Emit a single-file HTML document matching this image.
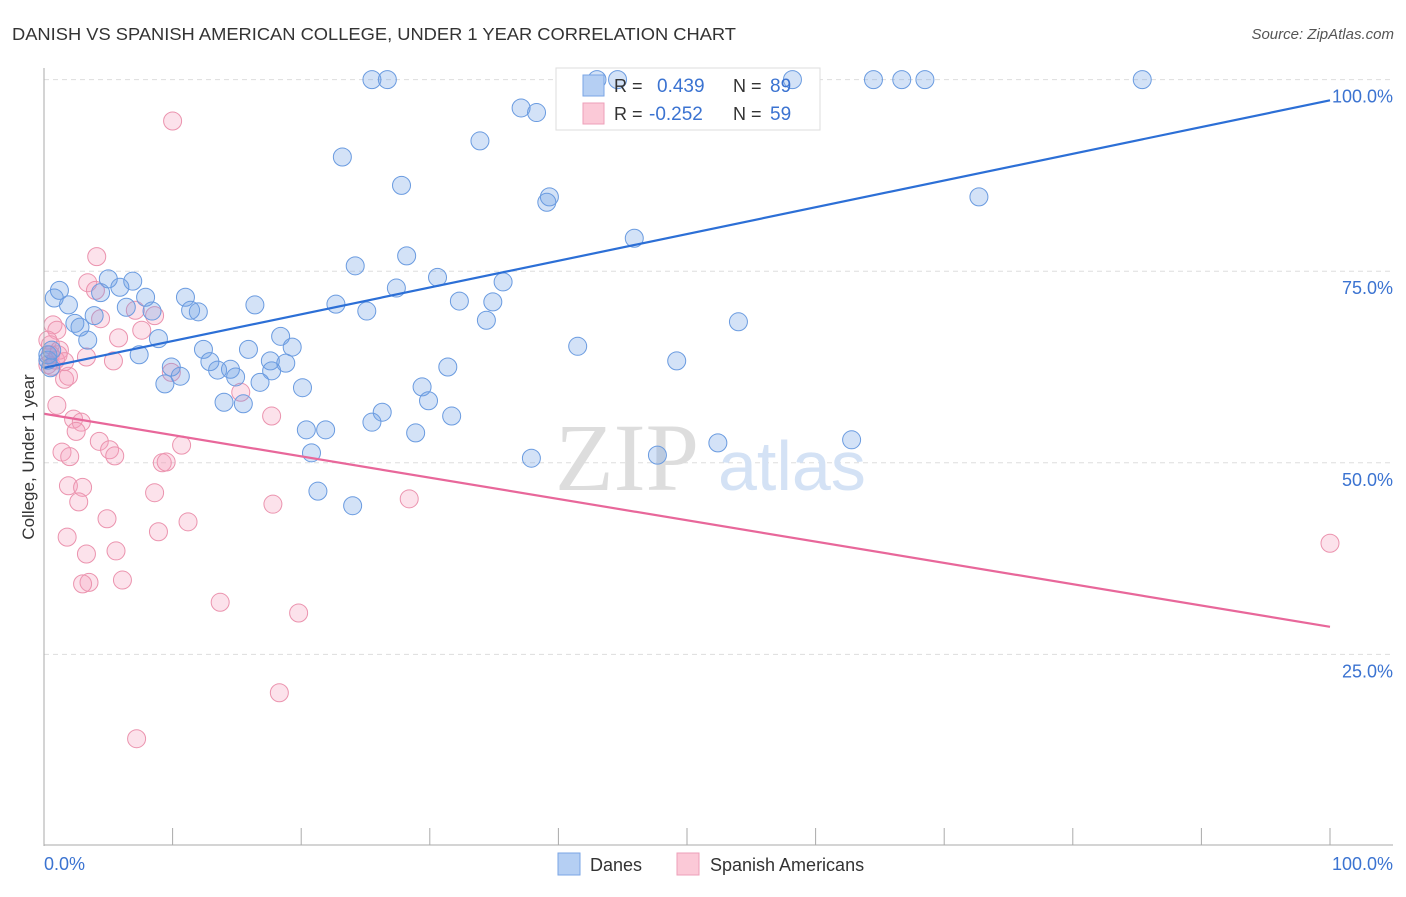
<!DOCTYPE html>
<html><head><meta charset="utf-8"><style>
body{margin:0;background:#fff;font-family:"Liberation Sans",sans-serif;}
</style></head><body>
<svg width="1406" height="892" xmlns="http://www.w3.org/2000/svg" style="font-family:'Liberation Sans',sans-serif">
<text x="12" y="40" font-size="17.5" fill="#333" textLength="724" lengthAdjust="spacingAndGlyphs">DANISH VS SPANISH AMERICAN COLLEGE, UNDER 1 YEAR CORRELATION CHART</text>
<text x="1394" y="39" font-size="15" fill="#555" font-style="italic" text-anchor="end">Source: ZipAtlas.com</text>
<g id="grid"></g>
<text x="555" y="490" font-size="96" fill="#ddd" font-family="Liberation Serif">ZIP</text>
<text x="718" y="490" font-size="70" fill="#d4e2f5">atlas</text>
<g>
<rect x="556" y="68" width="264" height="62" fill="#fff" stroke="#ddd"/>
</g>
<g id="pts"></g>
<g id="lines"></g>
<g>
<rect x="583" y="75" width="21" height="21" fill="#b5cff3" stroke="#7aa5e6"/>
<rect x="583" y="103" width="21" height="21" fill="#fbc9d7" stroke="#ee9fb8"/>
<text x="614" y="92" font-size="18" fill="#333">R =</text>
<text x="657" y="92" font-size="19" fill="#3b73d1">0.439</text>
<text x="733" y="92" font-size="18" fill="#333">N =</text>
<text x="770" y="92" font-size="19" fill="#3b73d1">89</text>
<text x="614" y="120" font-size="18" fill="#333">R =</text>
<text x="649" y="120" font-size="19" fill="#3b73d1">-0.252</text>
<text x="733" y="120" font-size="18" fill="#333">N =</text>
<text x="770" y="120" font-size="19" fill="#3b73d1">59</text>
</g>
<line x1="44" y1="68" x2="44" y2="846" stroke="#aaa"/>
<line x1="44" y1="845" x2="1393" y2="845" stroke="#aaa"/>
<g id="ticks"></g>
<text x="44" y="870" font-size="18" fill="#3b73d1">0.0%</text>
<text x="1393" y="870" font-size="18" fill="#3b73d1" text-anchor="end">100.0%</text>
<text transform="translate(34,457) rotate(-90)" font-size="17" fill="#333" text-anchor="middle">College, Under 1 year</text>
<g>
<rect x="558" y="853" width="22" height="22" fill="#b5cff3" stroke="#7aa5e6"/>
<text x="590" y="871" font-size="18" fill="#333">Danes</text>
<rect x="677" y="853" width="22" height="22" fill="#fbc9d7" stroke="#ee9fb8"/>
<text x="710" y="871" font-size="18" fill="#333">Spanish Americans</text>
</g>
</svg>
<script>
const yTicks=[100,75,50,25];
const yTickLabels=["100.0%","75.0%","50.0%","25.0%"];
const blueX=[25.5,26.7,43.0,44.6,58.2,64.5,66.7,68.5,85.4,37.1,38.3,33.9,23.2,27.8,39.3,39.1,72.7,45.9,28.2,24.2,30.6,35.7,5.0,6.9,5.9,1.2,0.8,4.4,7.9,11.0,1.9,6.4,8.4,11.4,12.0,16.4,22.7,25.1,27.4,32.3,34.9,34.4,54.0,2.4,2.8,3.9,3.4,8.9,18.4,12.4,15.9,19.3,41.5,7.4,49.2,9.9,12.9,13.5,14.5,17.6,18.8,17.7,31.4,10.6,14.9,9.4,16.8,20.1,29.4,29.9,14.0,15.5,26.3,31.7,25.5,20.4,21.9,28.9,52.4,62.8,20.8,37.9,47.7,21.3,24.0,0.3,0.3,0.5,0.6];
const blueY=[100,100,100,100,100,100,100,100,100,96.3,95.7,92.0,89.9,86.2,84.7,84.0,84.7,79.3,77.0,75.7,74.2,73.6,74.0,73.7,72.9,72.5,71.5,72.2,71.6,71.6,70.6,70.3,69.8,69.9,69.7,70.6,70.7,69.8,72.8,71.1,71.0,68.6,68.4,68.2,67.7,69.2,66.0,66.2,66.5,64.8,64.8,65.1,65.2,64.1,63.3,62.5,63.2,62.1,62.2,63.3,63.0,62.0,62.5,61.3,61.2,60.3,60.5,59.8,59.9,58.1,57.9,57.7,56.6,56.1,55.3,54.3,54.3,53.9,52.6,53.0,51.3,50.6,51.0,46.3,44.4,63.4,64.1,62.4,64.7];
const pinkX=[10.0,4.1,3.4,4.0,0.7,1.0,4.4,8.6,7.1,7.6,5.8,0.5,1.1,3.3,5.4,0.6,1.6,1.9,0.3,9.9,15.3,1.0,2.3,2.9,2.5,17.7,1.4,4.3,5.1,5.5,2.0,9.2,9.5,10.7,1.9,3.0,8.6,28.4,2.7,17.8,4.9,11.2,8.9,1.8,5.6,3.3,6.1,3.5,3.0,13.7,19.8,18.3,7.2,100,0.3,0.9,1.2,0.5,1.6];
const pinkY=[94.6,76.9,73.5,72.5,68.0,67.3,68.8,69.2,69.9,67.3,66.3,65.4,64.1,63.8,63.3,62.6,60.9,61.3,62.8,61.8,59.2,57.5,55.7,55.3,54.1,56.1,51.4,52.8,51.7,50.9,50.8,50.0,50.1,52.3,47.0,46.8,46.1,45.3,44.9,44.6,42.7,42.3,41.0,40.3,38.5,38.1,34.7,34.4,34.2,31.8,30.4,20.0,14.0,39.5,66.0,63.4,64.7,64.1,63.2];
const blueTrend=[62.4,97.3];
const pinkTrend=[56.4,28.6];
const NS="http://www.w3.org/2000/svg";
const sx=v=>44+v*12.86, sy=v=>846-v*7.664;
function mk(t,a,p){const e=document.createElementNS(NS,t);for(const k in a)e.setAttribute(k,a[k]);p.appendChild(e);return e;}
const grid=document.getElementById('grid');
yTicks.forEach((t,i)=>{
 const l=mk('line',{x1:44,x2:1393,y1:sy(t),y2:sy(t),stroke:'#ddd','stroke-dasharray':'5,4'},grid);
 
 
 const tx=mk('text',{x:1393,y:sy(t)+23,'font-size':18,fill:'#3b73d1','text-anchor':'end'},grid);
 tx.textContent=yTickLabels[i];
 
 
});
const ticks=document.getElementById('ticks');
for(let k=1;k<=10;k++){
 const l=mk('line',{x1:sx(k*10),x2:sx(k*10),y1:828,y2:845,stroke:'#aaa'},ticks);
 
 
}
const pts=document.getElementById('pts');
function dots(X,Y,fill,stroke,name){
 const n=Math.min(X.length,Y.length);
 for(let i=0;i<n;i++){
  const c=mk('circle',{cx:sx(X[i]),cy:sy(Y[i]),r:9,fill:fill,stroke:stroke,'stroke-width':1},pts);
  
  
 }
}
dots(pinkX,pinkY,'rgba(244,160,188,0.3)','#eb93ae','spanish-american-point');
dots(blueX,blueY,'rgba(110,160,230,0.3)','#6a9be0','danes-point');
const lines=document.getElementById('lines');
const bl=mk('line',{x1:sx(0),y1:sy(blueTrend[0]),x2:sx(100),y2:sy(blueTrend[1]),stroke:'#2c6fd6','stroke-width':2.2},lines);


const pl=mk('line',{x1:sx(0),y1:sy(pinkTrend[0]),x2:sx(100),y2:sy(pinkTrend[1]),stroke:'#e8679a','stroke-width':2.2},lines);


</script>
</body></html>
